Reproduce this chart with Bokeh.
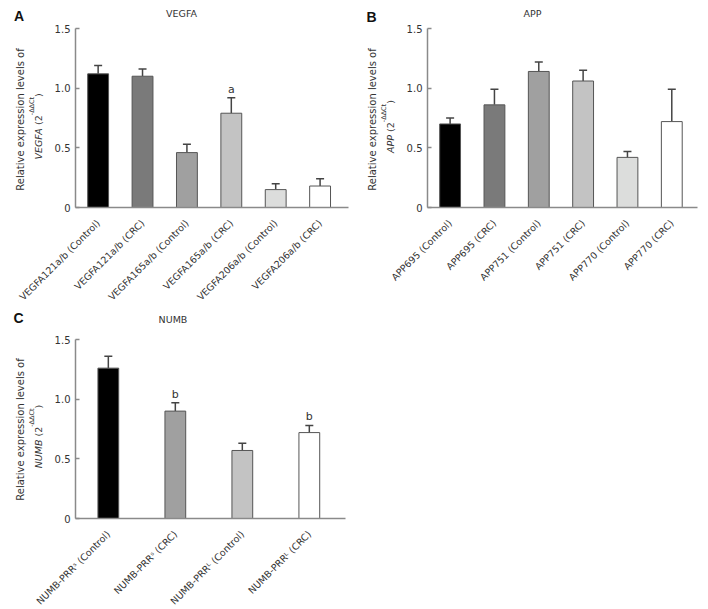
from math import pi
from bokeh.plotting import figure
from bokeh.models import (Range1d, FixedTicker, Label, Whisker, TeeHead, ColumnDataSource,
                          GridBox)
from bokeh.layouts import column
from bokeh.embed import file_html
from bokeh.resources import INLINE
from bokeh.core.properties import value

# ---------------- data ----------------
vegfa_labels = ["VEGFA121a/b (Control)", "VEGFA121a/b (CRC)", "VEGFA165a/b (Control)",
                "VEGFA165a/b (CRC)", "VEGFA206a/b (Control)", "VEGFA206a/b (CRC)"]
vegfa_mean = [1.12, 1.10, 0.46, 0.79, 0.15, 0.18]
vegfa_err = [0.07, 0.06, 0.07, 0.13, 0.05, 0.06]
vegfa_sig = ["", "", "", "a", "", ""]

app_labels = ["APP695 (Control)", "APP695 (CRC)", "APP751 (Control)",
              "APP751 (CRC)", "APP770 (Control)", "APP770 (CRC)"]
app_mean = [0.70, 0.86, 1.14, 1.06, 0.42, 0.72]
app_err = [0.05, 0.13, 0.08, 0.09, 0.05, 0.27]
app_sig = ["", "", "", "", "", ""]

numb_labels = ["NUMB-PRR\u02e2 (Control)", "NUMB-PRR\u02e2 (CRC)",
               "NUMB-PRR\u1d38 (Control)", "NUMB-PRR\u1d38 (CRC)"]
numb_mean = [1.26, 0.90, 0.57, 0.72]
numb_err = [0.10, 0.07, 0.06, 0.06]
numb_sig = ["", "b", "", "b"]

six_colors = ["#000000", "#7a7a7a", "#a0a0a0", "#c3c3c3", "#dcdddc", "#ffffff"]
four_colors = ["#000000", "#a0a0a0", "#c3c3c3", "#ffffff"]

y_ticks = [0, 0.5, 1.0, 1.5]
y_tick_labels = ["0", "0.5", "1.0", "1.5"]

panel_letters = ["A", "B", "C"]
panel_titles = ["VEGFA", "APP", "NUMB"]
panel_genes = ["VEGFA", "APP", "NUMB"]

FONT = "DejaVu Sans"
TXT = "#333333"
AX = "#8a8a8a"
TOTAL_W, TOTAL_H = 700, 605

# approximate DejaVu Sans advance widths (em)
EM = {"V": .684, "E": .632, "G": .775, "F": .575, "A": .684, "P": .603, "N": .748,
      "U": .732, "M": .863, "B": .686, " ": .318, "(": .390, ")": .390, "2": .636,
      "-": .361, "\u0394": .684, "C": .698, "t": .392}


def tw(s, size):
    return sum(EM.get(c, 0.6) for c in s) * size


def panel(labels, mean, err, sig, colors, frame_w, borders, x_start, x_end, bar_w):
    n = len(labels)
    xs = list(range(n))
    left, right, top, bottom = borders
    p = figure(frame_width=frame_w, frame_height=179,
               x_range=Range1d(x_start, x_end), y_range=Range1d(0, 1.5),
               output_backend="svg", toolbar_location=None, title=None,
               min_border_left=left, min_border_right=right,
               min_border_top=top, min_border_bottom=bottom)
    p.outline_line_color = None
    p.xgrid.visible = False
    p.ygrid.visible = False

    upper = [m + e for m, e in zip(mean, err)]
    src = ColumnDataSource(dict(x=xs, top=mean, upper=upper, color=colors, sig=sig))
    p.vbar(x="x", top="top", width=bar_w, fill_color="color", line_color="#555555",
           line_width=1, source=src)
    p.add_layout(Whisker(base="x", lower="top", upper="upper", source=src,
                         line_color="#444444", line_width=1.5, lower_head=None,
                         upper_head=TeeHead(size=8, line_color="#444444", line_width=1.5)))
    p.text(x="x", y="upper", text="sig", source=src, text_align="center",
           text_baseline="bottom", y_offset=-2, text_font=value(FONT),
           text_font_size="11px", text_color=TXT)

    xa = p.xaxis[0]
    xa.ticker = FixedTicker(ticks=xs)
    xa.major_label_overrides = {i: l for i, l in enumerate(labels)}
    xa.major_label_orientation = pi / 4
    xa.major_tick_line_color = None
    xa.minor_tick_line_color = None
    xa.axis_line_color = AX
    xa.axis_line_width = 1.5
    xa.major_label_text_font = FONT
    xa.major_label_text_font_size = "9.5px"
    xa.major_label_text_color = TXT
    xa.major_label_standoff = 8

    ya = p.yaxis[0]
    ya.ticker = FixedTicker(ticks=y_ticks)
    ya.major_label_overrides = {t: l for t, l in zip(y_ticks, y_tick_labels)}
    ya.major_tick_in = 4
    ya.major_tick_out = 0
    ya.major_tick_line_color = AX
    ya.major_tick_line_width = 1.5
    ya.minor_tick_line_color = None
    ya.axis_line_color = AX
    ya.axis_line_width = 1.5
    ya.major_label_text_font = FONT
    ya.major_label_text_font_size = "10px"
    ya.major_label_text_color = TXT
    ya.major_label_standoff = 5
    return p


# borders: (left, right, top, bottom) -> frames at the reference positions
pA = panel(vegfa_labels, vegfa_mean, vegfa_err, vegfa_sig, six_colors, 273,
           (75, 12, 28, 101), -0.51, 5.64, 0.47)
pB = panel(app_labels, app_mean, app_err, app_sig, six_colors, 270,
           (67, 3, 28, 101), -0.51, 5.58, 0.47)
pC = panel(numb_labels, numb_mean, numb_err, numb_sig, four_colors, 270,
           (75, 15, 30, 88), -0.49, 3.54, 0.31)

# ---- transparent overlay carrying letters, titles and two-line y titles ----
ov = figure(frame_width=TOTAL_W, frame_height=TOTAL_H, x_range=Range1d(0, TOTAL_W),
            y_range=Range1d(0, TOTAL_H), min_border=0, min_border_left=0,
            min_border_right=0, min_border_top=0, min_border_bottom=0, title=None,
            x_axis_location=None, y_axis_location=None, toolbar_location=None,
            output_backend="svg")
ov.background_fill_color = None
ov.border_fill_color = None
ov.outline_line_color = None
ov.xgrid.visible = False
ov.ygrid.visible = False


def put(text, X, Y, size, style="normal", font=FONT, angle=0.0, color=TXT):
    # X, Y: picture pixels of the text centre, origin at the top-left corner
    ov.add_layout(Label(x=X, y=TOTAL_H - Y, text=text, angle=angle,
                        text_align="center", text_baseline="middle", text_font=font,
                        text_font_size=f"{size}px", text_font_style=style,
                        text_color=color))


# frame top-left corner of each panel in the picture
anchors = [(75, 28), (427, 28), (75, 338)]
letter_pos = [(18.5, 15), (371, 16), (18, 317)]
title_pos = [(181, 13), (532, 13), (172.5, 319)]

for k in range(3):
    fx, fy = anchors[k]
    put(panel_letters[k], *letter_pos[k], 14, style="bold", font="Liberation Sans",
        color="#111111")
    put(panel_titles[k], *title_pos[k], 9.5)
    # line 1 of the y title
    put("Relative expression levels of", fx - 55, fy + 91, 10, angle=pi / 2)
    # line 2: italic gene + (2^-ΔΔCt), pieces centred one after another upwards
    s_main, s_sup = 9.5, 6.5
    pieces = [(panel_genes[k], s_main, "italic", 0), (" (2", s_main, "normal", 0),
              ("-\u0394\u0394Ct", s_sup, "normal", -6), (")", s_main, "normal", 0)]
    total = sum(tw(t, s) for t, s, _, _ in pieces)
    ystart = fy + 98 + total / 2          # lower end of the rotated line
    for t, s, st, off in pieces:
        w = tw(t, s)
        put(t.strip(), fx - 37.5 + off, ystart - w / 2 - (1.5 if t.startswith(" ") else 0),
            s, style=st, angle=pi / 2)
        ystart -= w

grid = GridBox(children=[(pA, 0, 0), (pB, 0, 1), (pC, 1, 0), (column(ov), 0, 0, 2, 2)])
open("out.html", "w").write(file_html(grid, INLINE))
